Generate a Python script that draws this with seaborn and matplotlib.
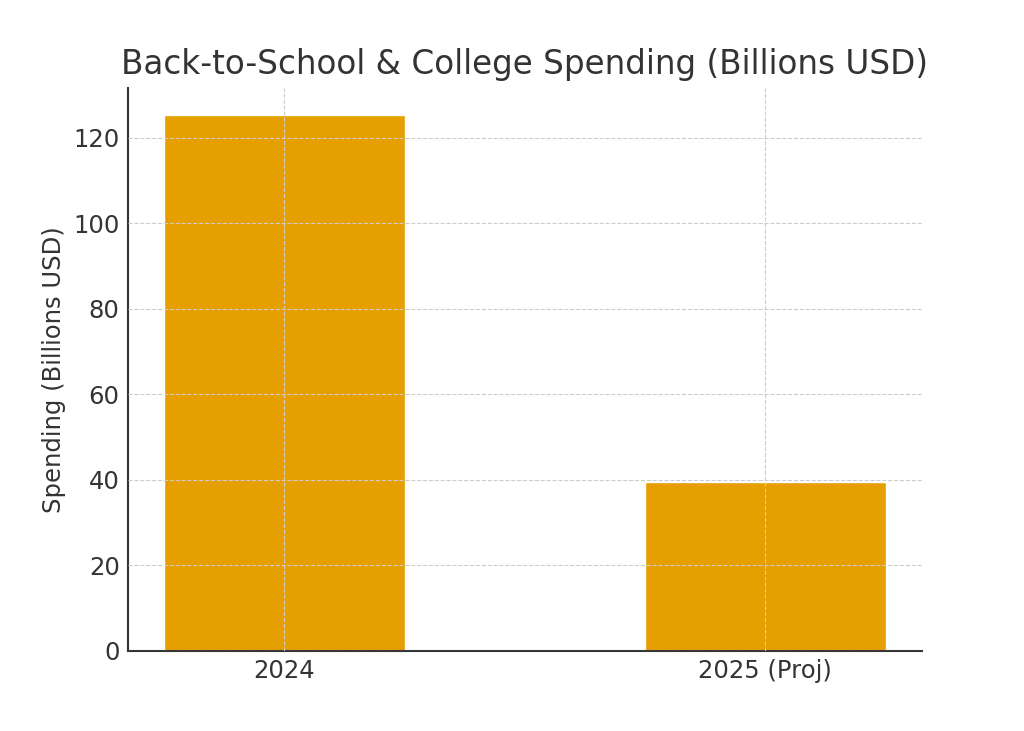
import pandas as pd
import seaborn as sns
import matplotlib.pyplot as plt

# data
years = ["2024", "2025 (Proj)"]
spending = [125.4, 39.4]

df = pd.DataFrame({"Year": years, "Spending": spending})

sns.set_style("white")
plt.rcParams["font.family"] = ["DejaVu Sans"]
plt.rcParams["text.color"] = "#333333"
plt.rcParams["axes.labelcolor"] = "#333333"
plt.rcParams["xtick.color"] = "#333333"
plt.rcParams["ytick.color"] = "#333333"

fig = plt.figure(figsize=(10.24, 7.31), dpi=100)
ax = fig.add_axes([0.125, 0.11, 0.775, 0.77])
sns.barplot(data=df, x="Year", y="Spending", color="#E69F00", saturation=1,
            width=0.5, ax=ax)

ax.set_axisbelow(False)
ax.grid(True, linestyle="--", color="#cccccc", linewidth=0.8)
ax.set_xlim(-0.325, 1.325)
ax.set_ylim(0, 125.4 * 1.05)

ax.set_title("Back-to-School & College Spending (Billions USD)", fontsize=23.5,
             color="#333333", pad=10)
ax.set_xlabel("")
ax.set_ylabel("Spending (Billions USD)", fontsize=17.5, labelpad=5)
ax.tick_params(axis="both", labelsize=17.5, direction="in", length=5,
               width=1.2, pad=6)

for side in ["top", "right"]:
    ax.spines[side].set_visible(False)
for side in ["left", "bottom"]:
    ax.spines[side].set_color("#333333")
    ax.spines[side].set_linewidth(1.5)

fig.savefig("out.png", dpi=100)
plt.close()
